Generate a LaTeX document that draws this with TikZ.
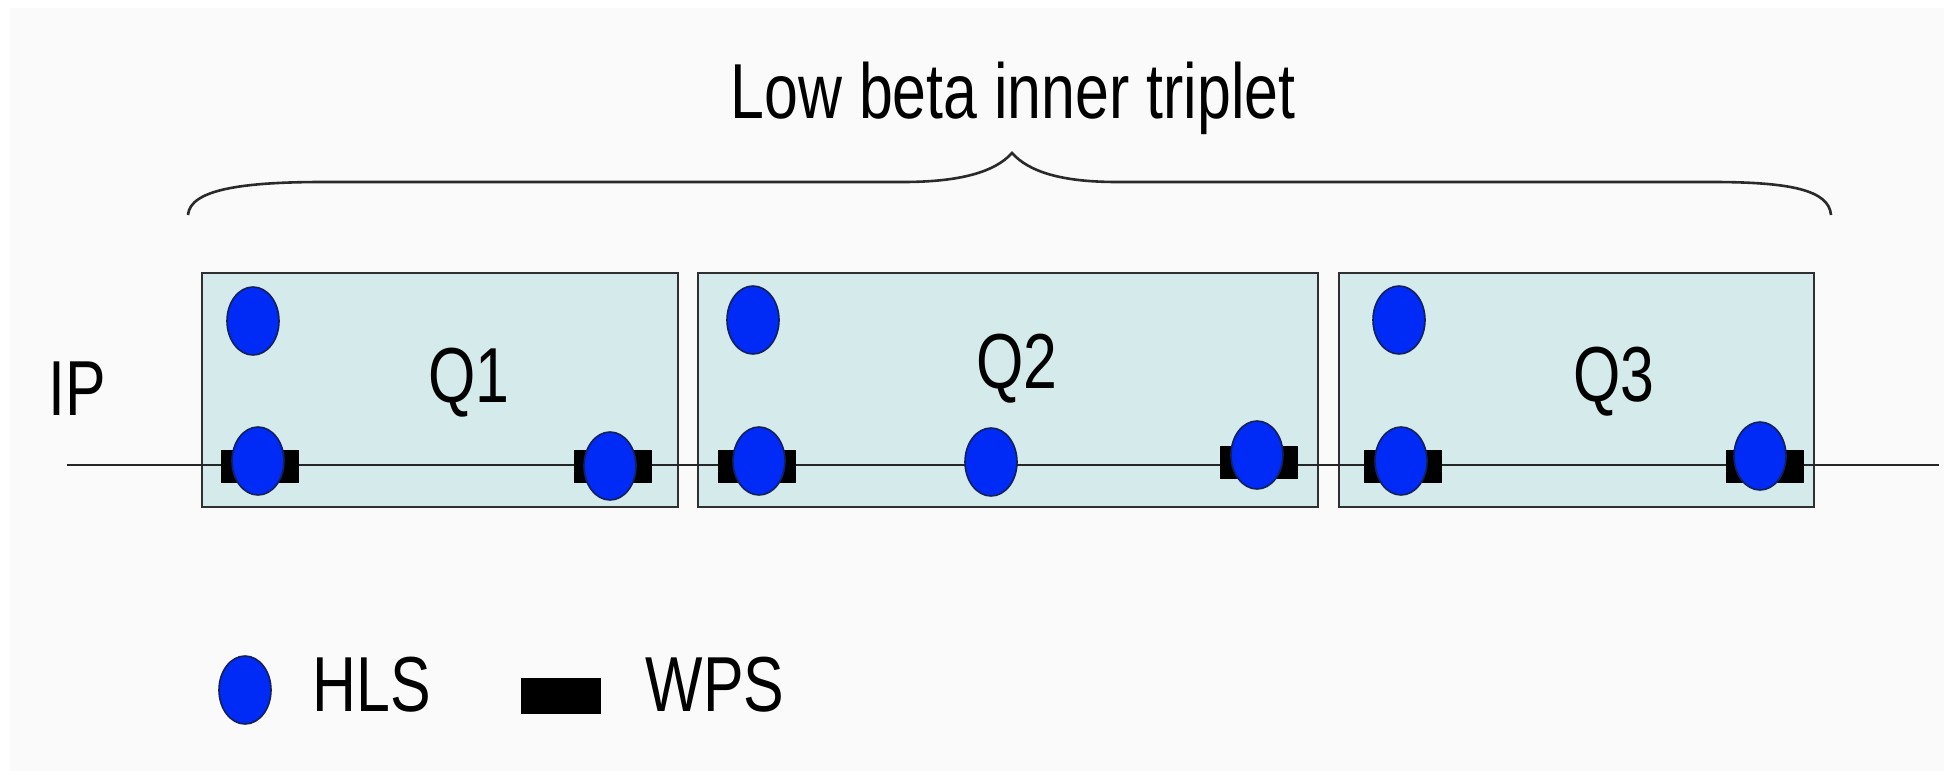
\documentclass[tikz,border=0pt]{standalone}
\usepackage{fontspec}
\setmainfont[FakeStretch=0.78]{Liberation Sans}
\usetikzlibrary{shapes.geometric}
\definecolor{bgcol}{HTML}{FAFAFA}
\definecolor{boxfill}{HTML}{D5EAEB}
\definecolor{boxedge}{HTML}{303030}
\definecolor{hlsfill}{HTML}{002AF6}
\definecolor{hlsedge}{HTML}{14205A}
\definecolor{bracecol}{HTML}{2A2A2A}
\tikzset{
  qbox/.style={draw=boxedge, fill=boxfill, line width=2.5pt, minimum height=234pt, inner sep=0pt},
  hls/.style={ellipse, draw=hlsedge, fill=hlsfill, line width=1.6pt, minimum width=52pt, minimum height=68pt, inner sep=0pt},
  wps/.style={rectangle, fill=black, minimum width=78pt, minimum height=33pt, inner sep=0pt},
  lbl/.style={anchor=base, inner sep=0pt, font=\fontsize{78}{90}\selectfont, text=black},
  beam/.style={draw=black!85, line width=2pt},
  bracestyle/.style={draw=bracecol, line width=2.6pt}
}
\begin{document}
\begin{tikzpicture}[x=1pt,y=-1pt]
\useasboundingbox (0,0) rectangle (1944,771);
\fill[white] (0,0) rectangle (1944,771);
\fill[bgcol] (10,8) rectangle (1944,771);

% title and brace
\node[lbl] (title) at (1013,118) {Low beta inner triplet};
\coordinate (brL) at (188,215);
\coordinate (brTip) at (1012,153);
\coordinate (brR) at (1831,215);
\draw[bracestyle] (brL) .. controls (190,190) and (240,182) .. (323,182)
  -- (903,182) .. controls (960,182) and (995,172) .. (brTip)
  .. controls (1029,172) and (1062,182) .. (1117,182)
  -- (1712,182) .. controls (1790,182) and (1829,190) .. (brR);

% magnet boxes
\node[qbox, minimum width=476pt] (q1) at (440,390) {};
\node[qbox, minimum width=620pt] (q2) at (1008,390) {};
\node[qbox, minimum width=475pt] (q3) at (1576.5,390) {};

\node[lbl] (q1lbl) at (469,402) {Q1};
\node[lbl] (q2lbl) at (1017,388) {Q2};
\node[lbl] (q3lbl) at (1614,401) {Q3};
\node[lbl] (ip) at (77,415) {IP};

% beam line
\coordinate (beamL) at (67,465);
\coordinate (beamR) at (1939,465);
\draw[beam] (beamL) -- (beamR);

% WPS sensors
\node[wps] (w1a) at (260,466) {};
\node[wps] (w1b) at (613,466) {};
\node[wps] (w2a) at (757,466) {};
\node[wps] (w2b) at (1259,462) {};
\node[wps] (w3a) at (1403,466) {};
\node[wps] (w3b) at (1765,466) {};

% HLS sensors
\node[hls] (h1t) at (253,321) {};
\node[hls] (h1a) at (258,461) {};
\node[hls] (h1b) at (610,466) {};
\node[hls] (h2t) at (753,320) {};
\node[hls] (h2a) at (759,461) {};
\node[hls] (h2m) at (991,462) {};
\node[hls] (h2b) at (1257,455) {};
\node[hls] (h3t) at (1399,320) {};
\node[hls] (h3a) at (1401,461) {};
\node[hls] (h3b) at (1760,456) {};

% legend
\node[hls] (leghls) at (245,690) {};
\node[lbl] (leghlstext) at (372,711) {HLS};
\node[wps, minimum width=80pt, minimum height=36pt] (legwps) at (561,696) {};
\node[lbl] (legwpstext) at (715,711) {WPS};
\end{tikzpicture}
\end{document}
